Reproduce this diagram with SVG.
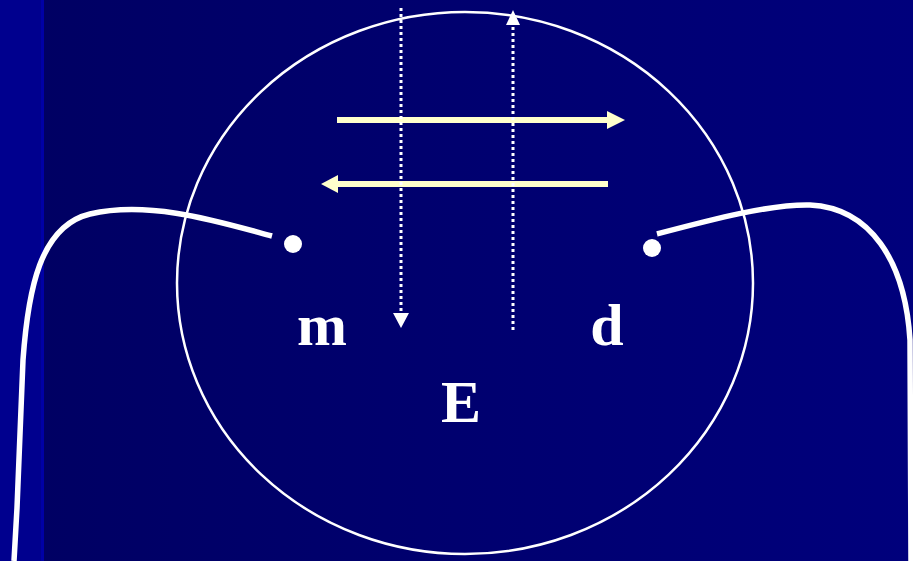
<svg xmlns="http://www.w3.org/2000/svg" width="913" height="561" viewBox="0 0 913 561">
<defs>
<linearGradient id="bg" x1="0" y1="0" x2="1" y2="0">
<stop offset="0" stop-color="#000062"/>
<stop offset="1" stop-color="#00007c"/>
</linearGradient>
</defs>
<style>
.wire{fill:none;stroke:#ffffff;stroke-width:5.5;stroke-linecap:butt}
.field{fill:none;stroke:#ffffff;stroke-width:3;stroke-dasharray:3 3}
.force{fill:none;stroke:#ffffcc;stroke-width:6}
.yhead{fill:#ffffcc}
.whead{fill:#ffffff}
.lbl{font-family:"Liberation Serif","Times New Roman",serif;font-weight:bold;font-size:60px;fill:#ffffff;text-anchor:middle}
</style>
<rect width="913" height="561" fill="url(#bg)"/>
<rect x="0" y="0" width="44" height="561" fill="#00008e"/>
<rect x="41" y="0" width="3" height="561" fill="#0000a6"/>
<g id="circle">
<ellipse cx="465" cy="283" rx="288" ry="271" fill="none" stroke="#ffffff" stroke-width="2.5"/>
</g>
<g id="connectors">
<path class="wire" d="M272,236 C220,222 150,200 90,214 C40,226 28,290 23,360 L17,508 L14,561"/>
<path class="wire" d="M657,234 C710,220 770,204 810,205 C870,208 905,260 910,340 L911,561"/>
<path class="force" d="M337,120 L608,120"/>
<polygon class="yhead" points="607,111 625,120 607,129"/>
<path class="force" d="M608,184 L337,184"/>
<polygon class="yhead" points="338,175 321,184 338,193"/>
<path class="field" d="M401,8 L401,313"/>
<polygon class="whead" points="393,313 409,313 401,328"/>
<path class="field" d="M513,330 L513,25"/>
<polygon class="whead" points="506,25 520,25 513,10"/>
</g>
<g id="dot-m"><circle cx="293" cy="244" r="9" fill="#ffffff"/></g>
<g id="dot-d"><circle cx="652" cy="248" r="9" fill="#ffffff"/></g>
<g id="label-m"><text class="lbl" x="322" y="345">m</text></g>
<g id="label-d"><text class="lbl" x="607" y="345">d</text></g>
<g id="label-E"><text class="lbl" x="461" y="422">E</text></g>
</svg>
